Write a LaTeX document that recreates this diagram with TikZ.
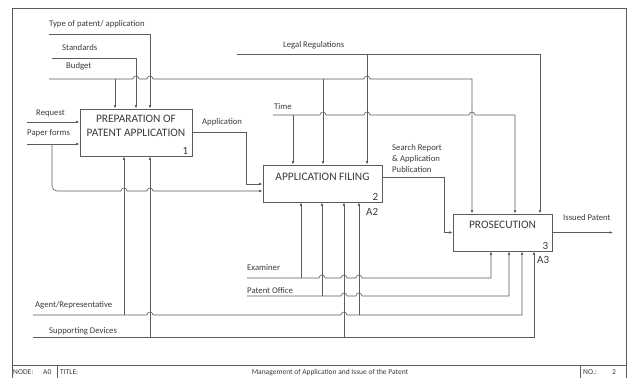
\documentclass[tikz,border=0pt]{standalone}
\usepackage{fontspec}
\setmainfont{Carlito}
\usetikzlibrary{arrows.meta,calc,positioning}
\definecolor{idefline}{HTML}{5C5C5C}
\definecolor{ideftext}{HTML}{3A3A3A}
% hop of a horizontal flow over a vertical one at x = #1 (y taken from #2)
\newcommand{\hop}[2]{-- (#1-3,0 |- #2) arc[start angle=180,end angle=0,radius=3pt]}

\begin{document}
\begin{tikzpicture}[x=1pt,y=-1pt]
\tikzset{>={Latex[length=3.5pt,width=2.6pt]},
  flow/.style={draw=idefline, line width=0.6pt},
  proc/.style={draw=idefline, line width=0.7pt, inner sep=0pt},
  lbl/.style={text=ideftext, font=\fontsize{8.7}{11}\selectfont, inner sep=0pt, anchor=mid west},
  ptext/.style={text=ideftext, font=\fontsize{11.4}{14}\selectfont, inner sep=0pt, align=center},
  pnum/.style={text=ideftext, font=\fontsize{11}{13}\selectfont, inner sep=0pt},
  tbar/.style={text=ideftext, font=\fontsize{7.5}{9}\selectfont, inner sep=0pt, anchor=mid west}}
\useasboundingbox (0,0) rectangle (630,378);

% frame and title bar
\draw[flow] (12,8) rectangle (626,384);
\draw[flow] (12,365) -- (626,365);
\draw[flow] (57,365) -- (57,384);
\draw[flow] (580,365) -- (580,384);
\node[tbar] (node-lbl) at (13,372) {NODE:};
\node[tbar] (node-val) at (43,372) {A0};
\node[tbar] (title-lbl) at (60,372) {TITLE:};
\node[tbar, anchor=mid] (title-val) at (330,372) {Management of Application and Issue of the Patent};
\node[tbar] (no-lbl) at (583,372) {NO.:};
\node[tbar] (no-val) at (612,372) {2};

% activities
\node[proc, minimum width=112pt, minimum height=47pt] (prep) at (136,132.5) {};
\node[ptext, below=6pt of prep.north] (prep-txt) {PREPARATION OF\\PATENT APPLICATION};
\node[pnum, above left=2pt and 4pt of prep.south east] (prep-num) {1};

\node[proc, minimum width=119pt, minimum height=37pt] (filing) at (322.5,183.5) {};
\node[ptext, below=8pt of filing.north] (filing-txt) {APPLICATION FILING};
\node[pnum, above left=2pt and 4pt of filing.south east] (filing-num) {2};
\node[pnum, below left=6pt and 4pt of filing.south east] (filing-ref) {A2};

\node[proc, minimum width=99pt, minimum height=37pt] (pros) at (502.5,232.5) {};
\node[ptext, below=7pt of pros.north] (pros-txt) {PROSECUTION};
\node[pnum, above left=2pt and 4pt of pros.south east] (pros-num) {3};
\node[pnum, below left=5pt and 3pt of pros.south east] (pros-ref) {A3};

% free ends of the flows
\coordinate (type-in) at (49,34);
\coordinate (std-in) at (52,58);
\coordinate (bud-in) at (49,79);
\coordinate (law-in) at (237,54);
\coordinate (time-in) at (273,115);
\coordinate (req-in) at (27,122);
\coordinate (paper-in) at (27,144);
\coordinate (paper-low) at (52,191);
\coordinate (app-bend) at (246,184);
\coordinate (search-bend) at (444,232.5);
\coordinate (issued-out) at (613,232.5);
\coordinate (exam-in) at (247,278);
\coordinate (office-in) at (247,296);
\coordinate (agent-in) at (33,315);
\coordinate (sup-in) at (33,337);

% labels
\node[lbl] (type-lbl) at (49,24.5) {Type of patent/ application};
\node[lbl] (std-lbl) at (62,48) {Standards};
\node[lbl] (bud-lbl) at (66,66) {Budget};
\node[lbl] (law-lbl) at (283,45) {Legal Regulations};
\node[lbl] (time-lbl) at (274,107) {Time};
\node[lbl] (req-lbl) at (36,113) {Request};
\node[lbl] (paper-lbl) at (27,133) {Paper forms};
\node[lbl] (app-lbl) at (202,122) {Application};
\node[lbl, anchor=north west, align=left] (search-lbl) at (392,144.5) {Search Report\\\& Application\\Publication};
\node[lbl] (issued-lbl) at (563,218) {Issued Patent};
\node[lbl] (exam-lbl) at (247,268.5) {Examiner};
\node[lbl] (office-lbl) at (247,291) {Patent Office};
\node[lbl] (agent-lbl) at (35,305) {Agent/Representative};
\node[lbl] (sup-lbl) at (49,331) {Supporting Devices};

% controls
\draw[flow,->] (type-in) -| (150,0 |- prep.north);
\draw[flow,->] (std-in) -| (136,0 |- prep.north);
\draw[flow,->] (bud-in) \hop{136}{bud-in} \hop{150}{bud-in} \hop{367}{bud-in} -| (472,0 |- pros.north);
\draw[flow,->] (115,0 |- bud-in) -- (115,0 |- prep.north);
\draw[flow,->] (323,0 |- bud-in) -- (323,0 |- filing.north);
\draw[flow,->] (law-in) -| (540,0 |- pros.north);
\draw[flow,->] (367,0 |- law-in) -- (367,0 |- filing.north);
\draw[flow,->] (time-in) \hop{323}{time-in} \hop{367}{time-in} \hop{472}{time-in} -| (515,0 |- pros.north);
\draw[flow,->] (293,0 |- time-in) -- (293,0 |- filing.north);

% inputs and outputs
\draw[flow,->] (req-in) -- (req-in -| prep.west);
\draw[flow,->] (paper-in) -- (paper-in -| prep.west);
\draw[flow,rounded corners=5pt] (52,0 |- paper-in) |- (90,0 |- paper-low);
\draw[flow,->] (90,0 |- paper-low) \hop{124}{paper-low} \hop{150}{paper-low} -- (paper-low -| filing.west);
\draw[flow,->] (prep.east) -| (app-bend) -- (app-bend -| filing.west);
\draw[flow,->] ([yshift=6.5pt]filing.east) -| (search-bend) -- (search-bend -| pros.west);
\draw[flow,->] (pros.east) -- (issued-out);

% mechanisms
\draw[flow,->] (exam-in) \hop{322}{exam-in} \hop{344}{exam-in} \hop{359}{exam-in} -| (491,0 |- pros.south);
\draw[flow,->] (301,0 |- exam-in) -- (301,0 |- filing.south);
\draw[flow,->] (office-in) \hop{344}{office-in} \hop{359}{office-in} -| (509,0 |- pros.south);
\draw[flow,->] (322,0 |- office-in) -- (322,0 |- filing.south);
\draw[flow,->] (agent-in) \hop{150}{agent-in} \hop{344}{agent-in} -| (522,0 |- pros.south);
\draw[flow,->] (124,0 |- agent-in) -- (124,0 |- prep.south);
\draw[flow,->] (359,0 |- agent-in) -- (359,0 |- filing.south);
\draw[flow,->] (sup-in) -| (534,0 |- pros.south);
\draw[flow,->] (150,0 |- sup-in) -- (150,0 |- prep.south);
\draw[flow,->] (344,0 |- sup-in) -- (344,0 |- filing.south);
\end{tikzpicture}
\end{document}
